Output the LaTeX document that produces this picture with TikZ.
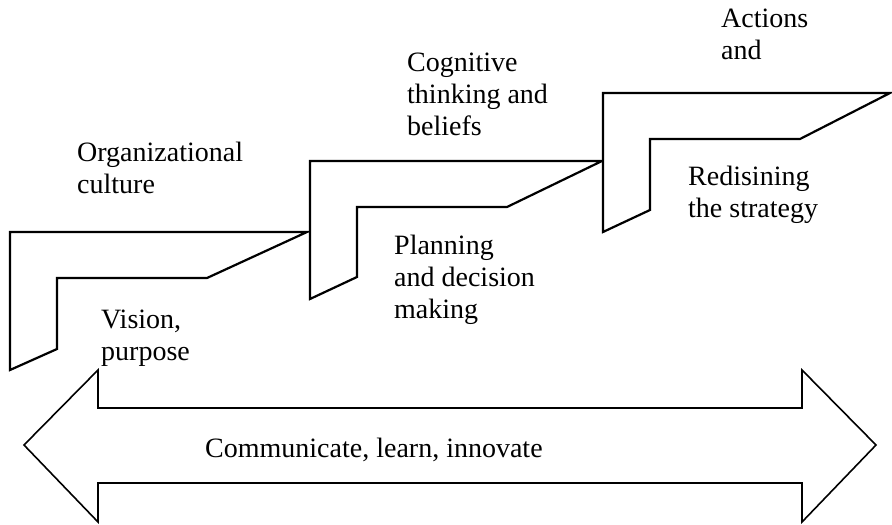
\documentclass[tikz,border=0pt]{standalone}
\usepackage{fontspec}
\setmainfont{Liberation Serif}
\begin{document}
\begin{tikzpicture}[x=1pt,y=-1pt,
  stepshape/.style={draw=black,line width=2.2pt,line join=miter,fill=white},
  bigarrow/.style={draw=black,line width=1.6pt,line join=miter,fill=white},
  lbl/.style={anchor=base west,inner sep=0pt,align=left,font=\fontsize{28}{32}\selectfont}]
\useasboundingbox (0,0) rectangle (892,525);
% steps
\draw[stepshape] (10,232) -- (307,232) -- (207,278) -- (57,278) -- (57,349) -- (10,370) -- cycle;
\draw[stepshape] (310,161) -- (602,161) -- (507,207) -- (357,207) -- (357,277) -- (310,299) -- cycle;
\draw[stepshape] (603,93) -- (890,93) -- (800,139) -- (650,139) -- (650,210) -- (603,232) -- cycle;
% double arrow
\draw[bigarrow] (24,445) -- (98,370) -- (98,408) -- (802,408) -- (802,370) -- (876,445)
  -- (802,522) -- (802,483) -- (98,483) -- (98,522) -- cycle;
% labels (anchor at baseline of last line)
\node[lbl] (culture) at (77,193) {Organizational\\culture};
\node[lbl] (vision) at (101,360) {Vision,\\purpose};
\node[lbl] (cognitive) at (407,135) {Cognitive\\thinking and\\beliefs};
\node[lbl] (planning) at (394,318) {Planning\\and decision\\making};
\node[lbl] (actions) at (721,59) {Actions\\and};
\node[lbl] (redesign) at (688,217) {Redisining\\the strategy};
\node[lbl] (comm) at (205,457) {Communicate, learn, innovate};
\end{tikzpicture}
\end{document}
